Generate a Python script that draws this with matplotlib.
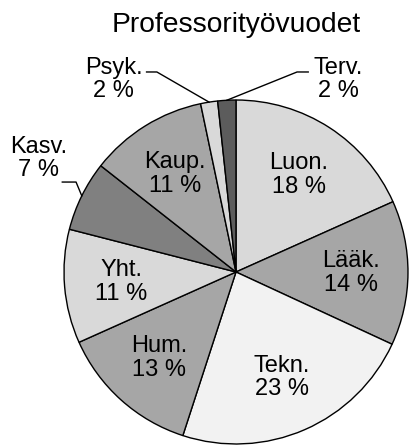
import matplotlib
matplotlib.use("Agg")
import matplotlib.pyplot as plt
import numpy as np

plt.rcParams['font.family'] = ['Liberation Sans', 'DejaVu Sans']

# data (clockwise from 12 o'clock)
labels = ['Luon.', 'Lääk.', 'Tekn.', 'Hum.', 'Yht.', 'Kasv.', 'Kaup.', 'Psyk.', 'Terv.']
values = [18.3, 13.6, 23.1, 13.3, 10.7, 6.6, 11.1, 1.6, 1.7]
colors = ['#d9d9d9', '#a6a6a6', '#f2f2f2', '#a6a6a6', '#d9d9d9',
          '#808080', '#a6a6a6', '#d9d9d9', '#5c5c5c']
title = 'Professorityövuodet'

# labels drawn outside with a leader line: (text pos, elbow, line end)
outside = {
    'Psyk.': ((-0.71, 1.12), (-0.46, 1.163), (-0.52, 1.163)),
    'Terv.': ((0.595, 1.12), (0.355, 1.163), (0.42, 1.163)),
    'Kasv.': ((-1.15, 0.66), (-0.93, 0.523), (-1.01, 0.523)),
}

fig = plt.figure(figsize=(4.09, 4.47), dpi=100)
ax = fig.add_axes([0.1565, 0.0067, 0.841, 0.7696])

wedges, _ = ax.pie(values, colors=colors, startangle=90, counterclock=False,
                   radius=1.0, wedgeprops=dict(edgecolor='black', linewidth=1.0))
ax.set_xlim(-1, 1)
ax.set_ylim(-1, 1)
ax.set_aspect('equal')
ax.axis('off')

total = sum(values)
for w, lab, v in zip(wedges, labels, values):
    txt = f"{lab}\n{v / total * 100:.0f} %"
    mid = np.deg2rad((w.theta1 + w.theta2) / 2)
    if lab in outside:
        tpos, elbow, end = outside[lab]
        edge = (np.cos(mid), np.sin(mid))
        ax.plot([edge[0], elbow[0], end[0]], [edge[1], elbow[1], end[1]],
                color='black', lw=1.0, clip_on=False)
        ax.text(tpos[0], tpos[1], txt, ha='center', va='center', fontsize=17,
                linespacing=1.1, clip_on=False)
    else:
        r = 0.67
        ax.text(r * np.cos(mid), r * np.sin(mid), txt, ha='center', va='center',
                fontsize=17, linespacing=1.1)

fig.text(0.577, 0.944, title, ha='center', va='center', fontsize=20.3)

fig.savefig('out.png', dpi=100)
